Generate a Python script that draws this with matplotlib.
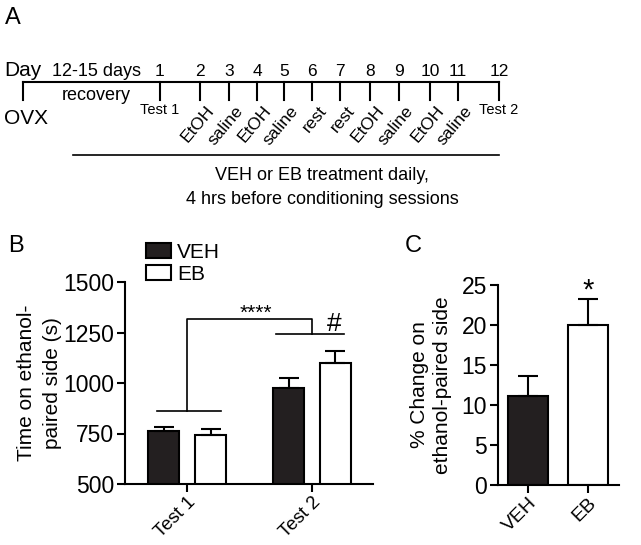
import matplotlib.pyplot as plt
import numpy as np

plt.rcParams['font.family'] = ['Liberation Sans', 'DejaVu Sans']

# Panel A: timeline
days = ['1', '2', '3', '4', '5', '6', '7', '8', '9', '10', '11', '12']
sessions = ['Test 1', 'EtOH', 'saline', 'EtOH', 'saline', 'rest', 'rest',
            'EtOH', 'saline', 'EtOH', 'saline', 'Test 2']
day_x = [160, 200, 229, 257, 284, 312, 340, 370, 399, 430, 458, 499]

# Panel B: time on ethanol-paired side
tests = ['Test 1', 'Test 2']
veh_time = [762, 973]
veh_err = [18, 53]
eb_time = [741, 1100]
eb_err = [31, 58]

# Panel C: % change
groups = ['VEH', 'EB']
pct_change = [11.15, 20.0]
pct_err = [2.45, 3.3]

W, H = 641, 545
fig = plt.figure(figsize=(W / 100, H / 100), dpi=100)

# overlay in pixel coordinates
ax0 = fig.add_axes([0, 0, 1, 1])
ax0.set_xlim(0, W)
ax0.set_ylim(H, 0)
ax0.axis('off')

lw = 1.5
ax0.text(5, 18, 'A', fontsize=17, va='center', ha='left')
ax0.plot([23, 499], [82, 82], color='k', lw=lw)
ax0.plot([23, 23], [82, 100], color='k', lw=lw)
for x, d, s in zip(day_x, days, sessions):
    ax0.plot([x, x], [82, 100], color='k', lw=lw)
    ax0.text(x, 72, d, fontsize=12.5, ha='center', va='center')
    if s.startswith('Test'):
        ax0.text(x, 110, s, fontsize=10.5, ha='center', va='center')
    else:
        ax0.text(x + 6, 103, s, fontsize=12.5, ha='right', va='top',
                 rotation=50, rotation_mode='anchor')
ax0.text(4, 71, 'Day', fontsize=15, ha='left', va='center')
ax0.text(4, 118, 'OVX', fontsize=15, ha='left', va='center')
ax0.text(96, 72, '12-15 days', fontsize=13, ha='center', va='center')
ax0.text(96, 96, 'recovery', fontsize=13, ha='center', va='center')
ax0.plot([73, 499], [155, 155], color='k', lw=1.2)
ax0.text(322, 176, 'VEH or EB treatment daily,', fontsize=13, ha='center', va='center')
ax0.text(322, 199, '4 hrs before conditioning sessions', fontsize=13, ha='center', va='center')

ax0.text(8, 246, 'B', fontsize=17, va='center', ha='left')
ax0.text(405, 246, 'C', fontsize=17, va='center', ha='left')


def style(ax):
    for side in ['top', 'right']:
        ax.spines[side].set_visible(False)
    for side in ['left', 'bottom']:
        ax.spines[side].set_linewidth(lw)
    ax.tick_params(direction='out', length=6, width=lw, labelsize=16.5, pad=2)


# Panel B
axB = fig.add_axes([125 / W, (H - 484) / H, (373 - 125) / W, (484 - 282) / H])
x = np.arange(len(tests))
off, bw = 0.188, 0.25
ekw = dict(ecolor='k', elinewidth=lw, capsize=7, capthick=lw)
axB.bar(x - off, veh_time, bw, color='#231f20', edgecolor='k', lw=lw, label='VEH')
axB.bar(x + off, eb_time, bw, color='white', edgecolor='k', lw=lw, label='EB')
axB.errorbar(x - off, veh_time, yerr=[[0, 0], veh_err], fmt='none', **ekw)
axB.errorbar(x + off, eb_time, yerr=[[0, 0], eb_err], fmt='none', **ekw)
axB.set_xlim(-0.5, 1.49)
axB.set_ylim(500, 1500)
axB.set_yticks([500, 750, 1000, 1250, 1500])
axB.set_xticks(x)
axB.set_xticklabels(tests, rotation=45, ha='right', rotation_mode='anchor')
style(axB)
axB.tick_params(axis='x', labelsize=13.5, pad=1)
axB.set_ylabel('Time on ethanol-\npaired side (s)', fontsize=15, linespacing=1.45)
axB.yaxis.set_label_coords(-0.255, 0.5)
# significance brackets
kw = dict(color='k', lw=1.2, clip_on=False)
axB.plot([-0.24, 0.27], [860, 860], **kw)
axB.plot([0, 0, 1, 1], [860, 1317, 1317, 1241], **kw)
axB.plot([0.71, 1.26], [1241, 1241], **kw)
axB.text(0.55, 1345, '****', fontsize=15, ha='center', va='center')
axB.text(1.18, 1292, '#', fontsize=19, ha='center', va='center')
axB.legend(loc='upper left', bbox_to_anchor=(0.05, 1.235), frameon=False,
           fontsize=15, handlelength=1.2, handleheight=0.75, handletextpad=0.3,
           labelspacing=0.15, borderaxespad=0)

# Panel C
axC = fig.add_axes([498 / W, (H - 485) / H, (619 - 498) / W, (485 - 285) / H])
xc = np.arange(len(groups))
axC.bar(xc, pct_change, 0.67, color=['#231f20', 'white'], edgecolor='k', lw=lw)
axC.errorbar(xc, pct_change, yerr=[[0, 0], pct_err], fmt='none', **ekw)
axC.set_xlim(-0.5, 1.52)
axC.set_ylim(0, 25)
axC.set_yticks([0, 5, 10, 15, 20, 25])
axC.set_xticks(xc)
axC.set_xticklabels(groups, rotation=45, ha='right', rotation_mode='anchor')
style(axC)
axC.tick_params(axis='x', labelsize=14, pad=1)
axC.set_ylabel('% Change on\nethanol-paired side', fontsize=15, linespacing=1.25)
axC.yaxis.set_label_coords(-0.38, 0.5)
axC.text(1, 24.3, '*', fontsize=21, ha='center', va='center')

fig.savefig('out.png', dpi=100)
